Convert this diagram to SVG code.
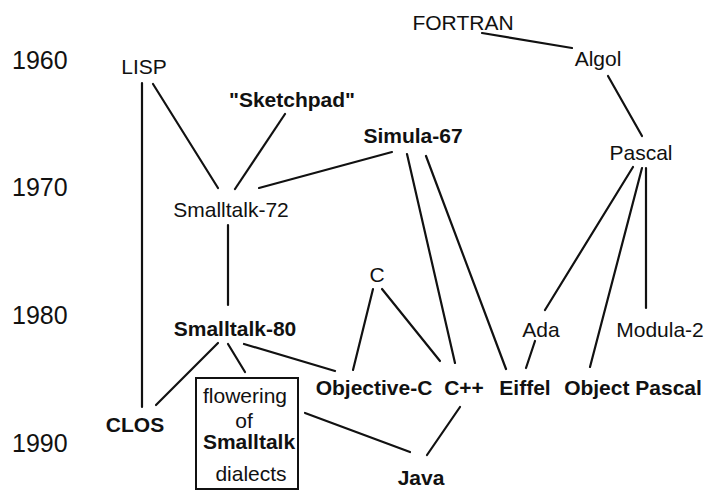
<svg xmlns="http://www.w3.org/2000/svg" width="707" height="492" viewBox="0 0 707 492">
<style>
text{font-family:"Liberation Sans",Arial,sans-serif;font-size:21px;fill:#111;text-anchor:middle}
.b{font-weight:bold}
.yr{font-size:25px;text-anchor:start}
.e line{stroke:#111;stroke-width:2.2;stroke-linecap:round}
</style>
<rect width="707" height="492" fill="#fff"/>
<g id="years">
<text class="yr" x="12" y="69">1960</text>
<text class="yr" x="12" y="196">1970</text>
<text class="yr" x="12" y="324">1980</text>
<text class="yr" x="12" y="452">1990</text>
</g>
<g class="e" id="connectors">
<line x1="482" y1="33" x2="572" y2="48"/>
<line x1="608" y1="76" x2="642" y2="136"/>
<line x1="142" y1="83" x2="142" y2="407"/>
<line x1="153" y1="84" x2="218" y2="188"/>
<line x1="285" y1="114" x2="235" y2="189"/>
<line x1="259" y1="188" x2="392" y2="152"/>
<line x1="228" y1="225" x2="228" y2="305"/>
<line x1="407" y1="154" x2="455" y2="363"/>
<line x1="426" y1="156" x2="506" y2="369"/>
<line x1="633" y1="167" x2="545" y2="310"/>
<line x1="642" y1="168" x2="590" y2="367"/>
<line x1="646" y1="168" x2="646" y2="308"/>
<line x1="373" y1="289" x2="353" y2="370"/>
<line x1="382" y1="289" x2="440" y2="361"/>
<line x1="535" y1="341" x2="526" y2="368"/>
<line x1="218" y1="343" x2="156" y2="405"/>
<line x1="228" y1="344" x2="245" y2="372"/>
<line x1="244" y1="344" x2="335" y2="371"/>
<line x1="460" y1="407" x2="427" y2="455"/>
<line x1="305" y1="413" x2="410" y2="452"/>
</g>
<g id="fortran"><text x="463" y="30">FORTRAN</text></g>
<g id="algol"><text x="598" y="66">Algol</text></g>
<g id="lisp"><text x="144" y="74">LISP</text></g>
<g id="sketchpad"><text class="b" x="292" y="107">"Sketchpad"</text></g>
<g id="simula"><text class="b" x="413" y="143">Simula-67</text></g>
<g id="pascal"><text x="641" y="160">Pascal</text></g>
<g id="smalltalk72"><text x="231" y="217">Smalltalk-72</text></g>
<g id="c"><text x="377" y="282">C</text></g>
<g id="smalltalk80"><text class="b" x="235" y="336">Smalltalk-80</text></g>
<g id="ada"><text x="541" y="337">Ada</text></g>
<g id="modula2"><text x="660" y="337">Modula-2</text></g>
<g id="objc"><text class="b" x="374" y="395">Objective-C</text></g>
<g id="cpp"><text class="b" x="464" y="395">C++</text></g>
<g id="eiffel"><text class="b" x="525" y="395">Eiffel</text></g>
<g id="objpascal"><text class="b" x="633" y="395">Object Pascal</text></g>
<g id="clos"><text class="b" x="135" y="432">CLOS</text></g>
<g id="dialects">
<rect x="196" y="378" width="102" height="111" fill="none" stroke="#111" stroke-width="2"/>
<text x="245" y="403">flowering</text>
<text x="244" y="428">of</text>
<text class="b" x="249" y="449">Smalltalk</text>
<text x="251" y="481">dialects</text>
</g>
<g id="java"><text class="b" x="421" y="485">Java</text></g>
</svg>
